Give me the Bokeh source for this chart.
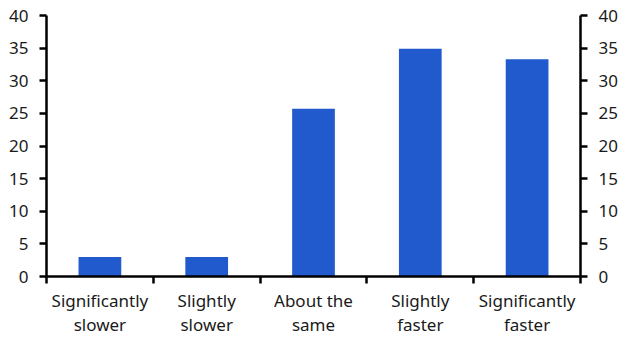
from bokeh.plotting import figure
from bokeh.models import Range1d, LinearAxis, FixedTicker
from bokeh.embed import file_html
from bokeh.resources import INLINE

categories = ["Significantly\nslower", "Slightly\nslower", "About the\nsame", "Slightly\nfaster", "Significantly\nfaster"]
values = [3.0, 3.0, 25.7, 34.9, 33.3]
y_ticks = [0, 5, 10, 15, 20, 25, 30, 35, 40]

FONT = "Noto Sans"
FS = "17px"
BAR = "#215ACD"

p = figure(width=630, height=355, output_backend="svg", toolbar_location=None,
           x_range=Range1d(0, len(categories)), y_range=Range1d(0, 40),
           x_axis_type=None, y_axis_type=None,
           min_border_left=46, min_border_right=50, min_border_top=15, min_border_bottom=79)
p.outline_line_color = None
p.xgrid.visible = False
p.ygrid.visible = False
p.background_fill_color = "white"
p.border_fill_color = "white"

xs = [i + 0.5 for i in range(len(categories))]
p.vbar(x=xs, top=values, bottom=0, width=0.4, fill_color=BAR, line_color=None)

def style_y(ax):
    ax.ticker = FixedTicker(ticks=y_ticks)
    ax.axis_line_width = 2.5
    ax.axis_line_color = "black"
    ax.major_tick_line_width = 2.5
    ax.major_tick_line_color = "black"
    ax.major_tick_out = 7
    ax.major_tick_in = 0
    ax.minor_tick_line_color = None
    ax.major_label_text_font = FONT
    ax.major_label_text_font_size = FS
    ax.major_label_text_color = "#1a1a1a"
    ax.major_label_standoff = 11

yl = LinearAxis()
style_y(yl)
p.add_layout(yl, "left")
yr = LinearAxis()
style_y(yr)
p.add_layout(yr, "right")

# boundary ticks
bticks = list(range(len(categories) + 1))
xa = LinearAxis()
xa.ticker = FixedTicker(ticks=bticks)
xa.major_label_overrides = {t: "" for t in bticks}
xa.axis_line_width = 2.5
xa.axis_line_color = "black"
xa.major_tick_line_width = 2.5
xa.major_tick_out = 7
xa.major_tick_in = 0
xa.minor_tick_line_color = None
xa.major_label_text_font_size = "1px"
xa.major_label_standoff = 0
p.add_layout(xa, "below")

# category labels
xl = LinearAxis()
xl.ticker = FixedTicker(ticks=xs)
xl.major_label_overrides = {x: c for x, c in zip(xs, categories)}
xl.axis_line_color = None
xl.major_tick_line_color = None
xl.minor_tick_line_color = None
xl.major_tick_out = 0
xl.major_tick_in = 0
xl.major_label_standoff = 5
xl.major_label_text_font = FONT
xl.major_label_text_font_size = FS
xl.major_label_text_color = "#1a1a1a"
xl.major_label_text_line_height = 1.05
p.add_layout(xl, "below")

open("out.html", "w").write(file_html(p, INLINE))
